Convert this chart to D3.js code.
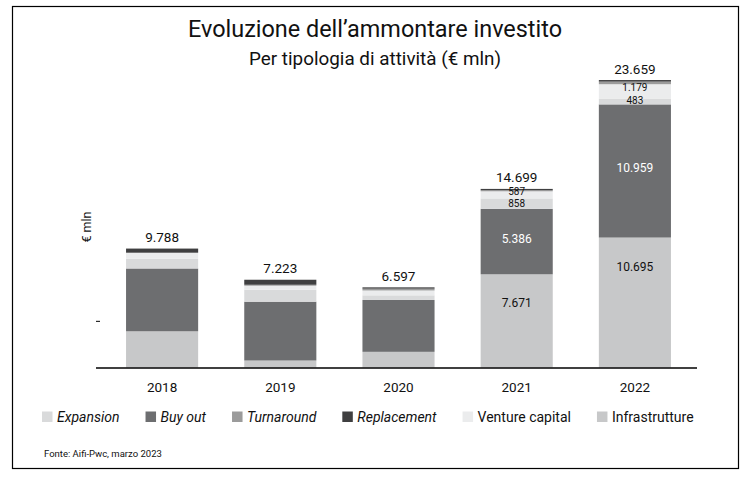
<!DOCTYPE html>
<html>
<head>
<meta charset="utf-8">
<script src="https://cdn.jsdelivr.net/npm/d3@7"></script>
<style>
  html, body { margin: 0; padding: 0; background: #fff; }
  svg { display: block; font-family: Roboto, "Noto Sans", sans-serif; }
</style>
</head>
<body>
<svg id="chart" width="751" height="477"></svg>
<script>
// ---- Data (values in € mln) ----
const years = ["2018", "2019", "2020", "2021", "2022"];
const infrastrutture = [2980, 575, 1290, 7671, 10695];
const buyOut = [5170, 4840, 4270, 5386, 10959];
const expansion = [795, 985, 380, 858, 483];
const ventureCapital = [490, 330, 400, 587, 1179];
const turnaround = [15, 80, 150, 90, 213];
const replacement = [338, 413, 107, 107, 130];
const totals = [9788, 7223, 6597, 14699, 23659];
const totalLabels = ["9.788", "7.223", "6.597", "14.699", "23.659"];
const labelledYears = ["2021", "2022"];

const seriesKeys = ["Infrastrutture", "Buy out", "Expansion", "Venture capital", "Turnaround", "Replacement"];
const seriesColors = ["#c7c8c9", "#6d6e70", "#d9dadb", "#ebeced", "#9b9b9b", "#3f3f40"];
const legendKeys = ["Expansion", "Buy out", "Turnaround", "Replacement", "Venture capital", "Infrastrutture"];
const legendItalic = [true, true, true, true, false, false];

const table = years.map((y, i) => ({
  year: y,
  "Infrastrutture": infrastrutture[i],
  "Buy out": buyOut[i],
  "Expansion": expansion[i],
  "Venture capital": ventureCapital[i],
  "Turnaround": turnaround[i],
  "Replacement": replacement[i]
}));

const fmt = d3.formatLocale({ decimal: ",", thousands: ".", grouping: [3], currency: ["€", ""] }).format(",d");

const svg = d3.select("#chart");
const color = d3.scaleOrdinal().domain(seriesKeys).range(seriesColors);

// frame
svg.append("rect").attr("x", 12.5).attr("y", 6.5).attr("width", 726).attr("height", 462)
  .attr("fill", "none").attr("stroke", "#000").attr("stroke-width", 1.2);

// titles
svg.append("text").attr("x", 375).attr("y", 37).attr("text-anchor", "middle")
  .attr("font-size", 23).attr("fill", "#111")
  .attr("textLength", 374).attr("lengthAdjust", "spacingAndGlyphs")
  .text("Evoluzione dell’ammontare investito");
svg.append("text").attr("x", 375).attr("y", 64.5).attr("text-anchor", "middle")
  .attr("font-size", 17.5).attr("fill", "#111")
  .attr("textLength", 252).attr("lengthAdjust", "spacingAndGlyphs")
  .text("Per tipologia di attività (€ mln)");

// scales
const x = d3.scaleBand().domain(years).range([103, 694]).paddingInner(0.39).paddingOuter(0.195);
const y = d3.scaleLinear().domain([0, 25000]).range([367.5, 367.5 - 25000 * 0.01215]);

const stack = d3.stack().keys(seriesKeys)(table);

const g = svg.append("g");
g.selectAll("g.series").data(stack).join("g").attr("class", "series")
  .attr("fill", d => color(d.key))
  .selectAll("rect").data(d => d).join("rect")
  .attr("x", d => x(d.data.year))
  .attr("width", x.bandwidth())
  .attr("y", d => y(d[1]))
  .attr("height", d => y(d[0]) - y(d[1]));

// segment labels for 2021, 2022
const labelSeries = [
  { key: "Infrastrutture", fill: "#111", size: 12, pos: d => y(d[1]) + 29 },
  { key: "Buy out", fill: "#fff", size: 12, pos: d => (y(d[0]) + y(d[1])) / 2 - 3 },
  { key: "Expansion", fill: "#111", size: 10, pos: d => (y(d[0]) + y(d[1])) / 2 - 0.5 },
  { key: "Venture capital", fill: "#111", size: 10, pos: d => (y(d[0]) + y(d[1])) / 2 - 3.5 }
];
labelSeries.forEach(ls => {
  const s = stack.find(st => st.key === ls.key);
  g.selectAll(null).data(s.filter(d => labelledYears.includes(d.data.year))).join("text")
    .attr("x", d => x(d.data.year) + x.bandwidth() / 2)
    .attr("y", d => ls.pos(d))
    .attr("dy", "0.35em")
    .attr("text-anchor", "middle")
    .attr("font-size", ls.size)
    .attr("fill", ls.fill)
    .text(d => fmt(d[1] - d[0]));
});

// totals
g.selectAll("text.total").data(years).join("text").attr("class", "total")
  .attr("x", d => x(d) + x.bandwidth() / 2)
  .attr("y", (d, i) => y(totals[i]) - 6.5)
  .attr("text-anchor", "middle").attr("font-size", 13.5).attr("fill", "#111")
  .text((d, i) => totalLabels[i]);

// x axis
const xAxis = svg.append("g").attr("transform", `translate(0,${y(0) + 0.5})`)
  .call(d3.axisBottom(x).tickSize(0).tickPadding(14));
xAxis.select(".domain").attr("d", "M96,0H697").attr("stroke", "#000").attr("stroke-width", 1.5);
xAxis.selectAll("text").attr("font-size", 13.5).attr("fill", "#111").attr("font-family", "Roboto, sans-serif");

// stray y tick
svg.append("line").attr("x1", 96).attr("x2", 100).attr("y1", y(3800)).attr("y2", y(3800))
  .attr("stroke", "#000").attr("stroke-width", 1);

// y axis label
svg.append("text").attr("transform", "translate(91,227) rotate(-90)")
  .attr("text-anchor", "middle").attr("font-size", 12.5).attr("fill", "#111").text("€ mln");

// legend
const leg = svg.append("g");
let lx = 42;
legendKeys.forEach((k, i) => {
  leg.append("rect").attr("x", lx).attr("y", 411.5).attr("width", 10.5).attr("height", 10.5)
    .attr("fill", color(k));
  const t = leg.append("text").attr("x", lx + 15).attr("y", 422).attr("font-size", 14)
    .attr("font-style", legendItalic[i] ? "italic" : "normal").attr("fill", "#111").text(k);
  lx += 15 + t.node().getComputedTextLength() + 26;
});

// source
svg.append("text").attr("x", 44).attr("y", 457).attr("font-size", 9.5).attr("fill", "#111")
  .text("Fonte: Aifi-Pwc, marzo 2023");
</script>
</body>
</html>
